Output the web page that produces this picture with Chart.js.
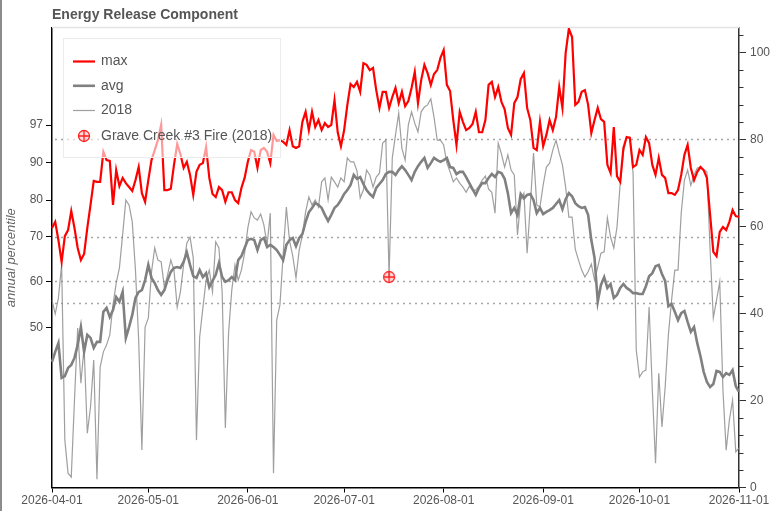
<!DOCTYPE html>
<html>
<head>
<meta charset="utf-8">
<title>Energy Release Component</title>
<script src="https://cdn.jsdelivr.net/npm/chart.js@4.4.1/dist/chart.umd.min.js"></script>
<style>
  body { margin: 0; background: #fff; }
  #wrap { width: 771px; height: 511px; border-left: 2px solid #8c8c8c; }
</style>
</head>
<body>
<div id="wrap"><canvas id="erc" width="771" height="511"></canvas></div>
<script>
// day 0 = 2026-04-01, one value per day through 2026-11-01
var startDate = '2026-04-01';
var dayCount = 215;

var maxErc = [
  59.7, 61.1, 56.9, 51.9, 57.8, 59.2, 63.6, 59.7, 55.1, 52.3,
  53.7, 59.7, 65.0, 70.5, 70.3, 70.3, 77.2, 75.3, 75.1, 65.0,
  73.0, 69.3, 71.2, 70.0, 69.1, 68.2, 70.7, 73.7, 67.7, 65.7,
  70.7, 75.3, 77.6, 79.9, 83.4, 68.4, 68.4, 68.7, 74.2, 79.0,
  76.7, 73.5, 74.9, 71.9, 67.3, 72.6, 74.2, 74.6, 78.3, 71.2,
  67.5, 66.8, 69.1, 68.4, 65.7, 67.9, 67.9, 66.1, 65.4, 68.9,
  71.2, 74.9, 77.6, 77.2, 73.5, 77.6, 78.1, 77.2, 74.6, 81.1,
  79.7, 79.9, 79.5, 78.8, 82.2, 78.5, 78.1, 78.5, 84.1, 86.4,
  82.2, 86.4, 82.9, 84.5, 82.2, 83.8, 82.9, 83.4, 89.1, 81.7,
  78.5, 82.2, 88.0, 92.8, 92.1, 93.3, 91.0, 97.6, 97.2, 96.0,
  96.5, 91.4, 87.3, 91.0, 91.0, 87.3, 89.8, 91.9, 88.4, 91.0,
  87.7, 88.9, 91.9, 95.6, 88.4, 93.7, 97.2, 95.3, 92.6, 95.1,
  96.0, 98.8, 100.6, 92.6, 91.2, 84.5, 78.8, 86.4, 84.1, 82.2,
  82.7, 83.6, 86.4, 81.7, 81.7, 84.5, 92.6, 93.3, 89.8, 92.1,
  88.7, 87.0, 82.7, 81.1, 88.4, 89.8, 93.9, 95.3, 87.3, 84.5,
  78.1, 77.6, 84.1, 78.5, 81.1, 84.5, 82.2, 85.2, 92.1, 87.3,
  99.9, 105.5, 103.6, 88.0, 88.7, 91.0, 91.4, 88.0, 81.5, 84.5,
  87.3, 84.7, 84.1, 74.2, 72.3, 82.9, 71.6, 70.3, 78.1, 80.6,
  80.4, 73.7, 74.2, 77.6, 76.5, 80.6, 79.2, 74.2, 71.9, 75.8,
  71.9, 71.2, 67.7, 67.7, 67.3, 68.4, 71.9, 76.5, 78.8, 73.5,
  70.7, 72.6, 73.7, 73.0, 71.2, 62.7, 54.2, 53.2, 58.8, 59.9,
  59.2, 61.1, 63.8, 62.4, 62.2
];

var avgErc = [
  28.9, 31.2, 33.2, 25.2, 25.6, 27.5, 28.2, 29.8, 32.8, 36.9,
  31.2, 35.1, 34.4, 32.1, 33.5, 33.5, 40.4, 41.3, 39.2, 40.8,
  43.8, 42.7, 45.0, 34.4, 36.9, 39.7, 43.6, 45.0, 45.4, 47.7,
  51.2, 48.2, 47.0, 45.4, 44.3, 45.4, 47.7, 49.6, 50.5, 50.7,
  50.5, 51.9, 54.1, 51.2, 48.6, 48.2, 50.0, 48.4, 49.3, 46.1,
  47.5, 48.9, 51.6, 48.4, 47.3, 47.7, 48.4, 47.7, 52.3, 53.2,
  55.1, 56.9, 57.2, 56.9, 54.6, 56.9, 57.4, 55.3, 55.8, 55.3,
  54.6, 53.5, 52.3, 55.8, 56.9, 57.4, 55.5, 57.4, 58.3, 61.1,
  63.3, 64.3, 65.4, 65.0, 64.3, 62.7, 61.3, 62.7, 64.3, 65.0,
  66.1, 67.5, 68.4, 69.6, 71.9, 71.0, 71.4, 69.8, 68.4, 67.5,
  66.8, 68.9, 69.8, 70.7, 72.1, 72.6, 72.6, 71.9, 73.0, 73.9,
  73.0, 71.9, 70.7, 72.6, 73.9, 74.9, 75.8, 73.5, 74.6, 75.8,
  75.3, 74.9, 75.3, 75.8, 73.7, 73.5, 72.1, 72.6, 72.6, 71.4,
  70.0, 68.6, 67.3, 68.9, 70.0, 70.0, 71.2, 72.1, 71.4, 72.6,
  72.3, 71.0, 67.7, 63.1, 64.3, 62.7, 67.5, 66.5, 67.3, 67.5,
  66.1, 63.1, 64.3, 62.9, 63.4, 63.8, 64.3, 65.2, 66.1, 64.0,
  66.3, 67.7, 67.0, 65.4, 64.7, 64.3, 64.5, 62.7, 56.9, 52.8,
  42.7, 46.6, 48.4, 45.9, 46.8, 43.6, 44.3, 45.9, 46.8, 45.9,
  45.4, 44.7, 44.7, 44.5, 44.5, 46.3, 48.6, 49.3, 50.9, 51.2,
  49.1, 47.5, 41.7, 42.2, 40.4, 38.5, 40.1, 40.6, 38.1, 35.8,
  36.9, 33.2, 30.2, 26.6, 24.3, 23.1, 23.8, 26.8, 26.6, 25.4,
  26.3, 25.9, 27.0, 23.3, 22.0
];

var erc2018 = [
  43.1, 39.9, 43.6, 51.2, 10.9, 3.3, 2.4, 20.1, 36.7, 24.0,
  32.3, 12.5, 18.5, 29.3, 1.9, 27.7, 31.2, 32.8, 35.1, 42.0,
  47.0, 50.5, 58.1, 66.1, 65.0, 61.1, 50.0, 33.9, 8.6, 36.9,
  39.0, 49.6, 55.1, 52.3, 51.9, 46.1, 48.9, 52.3, 50.0, 41.5,
  45.0, 51.2, 56.2, 57.6, 52.8, 10.9, 34.6, 41.3, 47.7, 50.0,
  45.0, 56.5, 55.1, 45.0, 13.7, 35.5, 45.4, 51.2, 47.7, 50.0,
  53.9, 59.7, 63.4, 62.0, 61.5, 62.9, 60.4, 55.8, 63.1, 3.3,
  38.5, 42.0, 53.5, 64.5, 56.7, 53.2, 48.2, 54.6, 58.1, 63.4,
  66.8, 65.0, 66.1, 64.5, 70.3, 71.2, 66.1, 71.4, 70.3, 69.1,
  71.2, 70.3, 75.8, 74.9, 74.9, 72.8, 66.6, 68.4, 73.0, 71.9,
  69.1, 71.4, 72.3, 79.2, 79.9, 48.4, 75.8, 81.1, 86.1, 78.0,
  75.3, 83.4, 86.4, 83.8, 81.8, 86.4, 87.5, 88.0, 89.4, 85.2,
  79.9, 79.9, 78.8, 74.6, 72.6, 70.3, 71.2, 70.0, 69.1, 67.9,
  69.3, 68.4, 68.4, 69.3, 70.7, 71.6, 68.6, 67.9, 63.1, 79.2,
  76.7, 73.7, 76.5, 73.0, 71.9, 58.1, 66.1, 67.7, 53.9, 65.0,
  76.9, 65.0, 64.5, 69.6, 73.7, 74.6, 77.6, 79.9, 76.9, 74.2,
  69.1, 62.2, 62.2, 54.8, 52.3, 50.0, 48.4, 49.6, 51.4, 47.7,
  50.7, 53.9, 54.2, 62.0, 57.6, 55.1, 59.9, 70.0, 77.2, 80.4,
  80.6, 72.3, 31.6, 25.4, 26.6, 27.0, 41.5, 22.4, 5.6, 26.3,
  13.9, 23.1, 35.1, 43.1, 50.0, 50.0, 63.1, 70.7, 73.0, 69.5,
  71.9, 73.5, 73.7, 73.0, 72.6, 54.6, 39.0, 43.1, 47.3, 22.4,
  8.6, 15.5, 20.1, 8.2, 9.1
];

// left axis: annual percentile ticks placed at their ERC value
var pctLabels = [50, 60, 70, 80, 90, 97];
var pctErc = [36.84, 47.42, 57.68, 66.12, 74.70, 83.37];

// dotted reference lines (ERC)
var refLines = [80.2, 57.6, 47.4, 42.4];

var fireDate = '2026-07-15';
var fireValue = 48.4;
var fireLabel = 'Grave Creek #3 Fire (2018)';

var ercMax = 105.68;

Chart.defaults.font.family = 'Arial, "Liberation Sans", Helvetica, sans-serif';
Chart.defaults.color = '#555';

// category labels: one per day
var dates = [];
(function(){
  var t0 = Date.parse(startDate + 'T00:00:00Z');
  for (var i = 0; i < dayCount; i++) {
    dates.push(new Date(t0 + i * 86400000).toISOString().slice(0, 10));
  }
})();

// fire marker: circle with a plus in it
function makeFireMarker(r) {
  var c = document.createElement('canvas');
  var s = r * 2 + 3;
  c.width = s; c.height = s;
  var g = c.getContext('2d');
  var m = s / 2;
  g.beginPath();
  g.arc(m, m, r, 0, Math.PI * 2);
  g.fillStyle = 'rgba(255,0,0,0.15)';
  g.fill();
  g.lineWidth = 1.3;
  g.strokeStyle = '#ff2020';
  g.stroke();
  g.beginPath();
  g.moveTo(m - r, m); g.lineTo(m + r, m);
  g.moveTo(m, m - r); g.lineTo(m, m + r);
  g.stroke();
  return c;
}
var fireMarker = makeFireMarker(5.5);

var ercDecor = {
  id: 'ercDecor',
  beforeDatasetsDraw: function(chart) {
    var ctx = chart.ctx, a = chart.chartArea, y = chart.scales.y;
    ctx.save();
    // faint frame on top of plot
    ctx.strokeStyle = '#e4e4e4';
    ctx.lineWidth = 1.5;
    ctx.beginPath();
    ctx.moveTo(a.left, a.top - 0.5);
    ctx.lineTo(a.right, a.top - 0.5);
    ctx.stroke();
    // dotted reference lines
    ctx.strokeStyle = '#a6a6a6';
    ctx.lineWidth = 1.3;
    ctx.setLineDash([2, 4]);
    refLines.forEach(function(v){
      var py = Math.round(y.getPixelForValue(v)) + 0.5;
      ctx.beginPath();
      ctx.moveTo(a.left + 3, py);
      ctx.lineTo(a.right, py);
      ctx.stroke();
    });
    ctx.restore();
  },
  afterDatasetsDraw: function(chart) {
    var ctx = chart.ctx, a = chart.chartArea;
    ctx.save();
    // legend box
    var bx = a.left + 11, by = a.top + 10, bw = 217, bh = 119;
    ctx.fillStyle = 'rgba(255,255,255,0.6)';
    ctx.fillRect(bx, by, bw, bh);
    ctx.strokeStyle = '#ececec';
    ctx.lineWidth = 1;
    ctx.strokeRect(bx + 0.5, by + 0.5, bw, bh);
    var rows = [23.5, 47.8, 72.5, 98];
    var ds = chart.data.datasets;
    ctx.font = '14px Arial, "Liberation Sans", sans-serif';
    ctx.textBaseline = 'middle';
    [1, 2, 3].forEach(function(k, i){
      var d = ds[k];
      var ly = by + rows[i];
      ctx.strokeStyle = d.borderColor;
      ctx.lineWidth = d.borderWidth;
      ctx.beginPath();
      ctx.moveTo(bx + 10, ly);
      ctx.lineTo(bx + 32, ly);
      ctx.stroke();
      ctx.fillStyle = '#555';
      ctx.fillText(d.label, bx + 38, ly);
    });
    var fy = by + rows[3];
    ctx.drawImage(fireMarker, bx + 21 - fireMarker.width / 2, fy - fireMarker.height / 2);
    ctx.fillStyle = '#555';
    ctx.fillText(ds[0].label, bx + 38, fy);
    ctx.restore();
  },
  afterDraw: function(chart) {
    var ctx = chart.ctx, a = chart.chartArea, y = chart.scales.y;
    ctx.save();
    // minor ticks on right axis
    ctx.strokeStyle = '#333';
    ctx.lineWidth = 1;
    for (var v = 4; v < ercMax; v += 4) {
      if (v % 20 === 0) continue;
      var py = Math.round(y.getPixelForValue(v)) + 0.5;
      ctx.beginPath();
      ctx.moveTo(y.left, py);
      ctx.lineTo(y.left + 4.5, py);
      ctx.stroke();
    }
    // title
    ctx.font = 'bold 14px Arial, "Liberation Sans", sans-serif';
    ctx.fillStyle = '#555';
    ctx.textBaseline = 'middle';
    ctx.fillText('Energy Release Component', a.left, 15);
    ctx.restore();
  }
};

var chart = new Chart(document.getElementById('erc'), {
  type: 'line',
  data: {
    labels: dates,
    datasets: [
      {
        label: fireLabel,
        data: [{ x: fireDate, y: fireValue }],
        showLine: false,
        pointStyle: fireMarker,
        pointRadius: 6,
        yAxisID: 'y'
      },
      {
        label: 'max',
        data: maxErc,
        borderColor: '#ff0000',
        borderWidth: 2.2,
        pointRadius: 0,
        tension: 0,
        yAxisID: 'y'
      },
      {
        label: 'avg',
        data: avgErc,
        borderColor: '#808080',
        borderWidth: 2.6,
        pointRadius: 0,
        tension: 0,
        yAxisID: 'y'
      },
      {
        label: '2018',
        data: erc2018,
        borderColor: 'rgba(135,135,135,0.8)',
        borderWidth: 1.2,
        pointRadius: 0,
        tension: 0,
        yAxisID: 'y'
      }
    ]
  },
  options: {
    responsive: false,
    animation: false,
    layout: { padding: { top: 28 } },
    plugins: {
      legend: { display: false },
      tooltip: { enabled: false },
      title: { display: false }
    },
    scales: {
      x: {
        type: 'category',
        offset: false,
        grid: { drawOnChartArea: false, tickLength: 5, tickColor: '#000' },
        border: { color: '#000', width: 1.5 },
        ticks: {
          autoSkip: false,
          maxRotation: 0,
          padding: 1,
          font: { size: 12 },
          color: '#555',
          callback: function(v, i) {
            var l = this.getLabelForValue(v);
            return l.slice(8) === '01' ? l : null;
          }
        },
        afterFit: function(s) { s.height = 23.5; }
      },
      yPct: {
        type: 'linear',
        position: 'left',
        min: 0,
        max: ercMax,
        grid: { drawOnChartArea: false, tickLength: 6, tickColor: '#000' },
        border: { color: '#000', width: 1.5 },
        title: {
          display: true,
          text: 'annual percentile',
          color: '#666',
          font: { size: 13, style: 'italic' },
          padding: { top: 2, bottom: 2 }
        },
        afterBuildTicks: function(s) {
          s.ticks = pctErc.map(function(v){ return { value: v }; });
        },
        ticks: {
          padding: 3,
          font: { size: 12 },
          color: '#555',
          callback: function(v, i) { return String(pctLabels[i]); }
        },
        afterFit: function(s) { s.width = 50; }
      },
      y: {
        type: 'linear',
        position: 'right',
        min: 0,
        max: ercMax,
        grid: { drawOnChartArea: false, tickLength: 7, tickColor: '#333' },
        border: { color: '#333', width: 1.5 },
        ticks: {
          stepSize: 20,
          includeBounds: false,
          padding: 4,
          font: { size: 12 },
          color: '#555'
        },
        afterFit: function(s) { s.width = 34; }
      }
    }
  },
  plugins: [ercDecor]
});
</script>
</body>
</html>
